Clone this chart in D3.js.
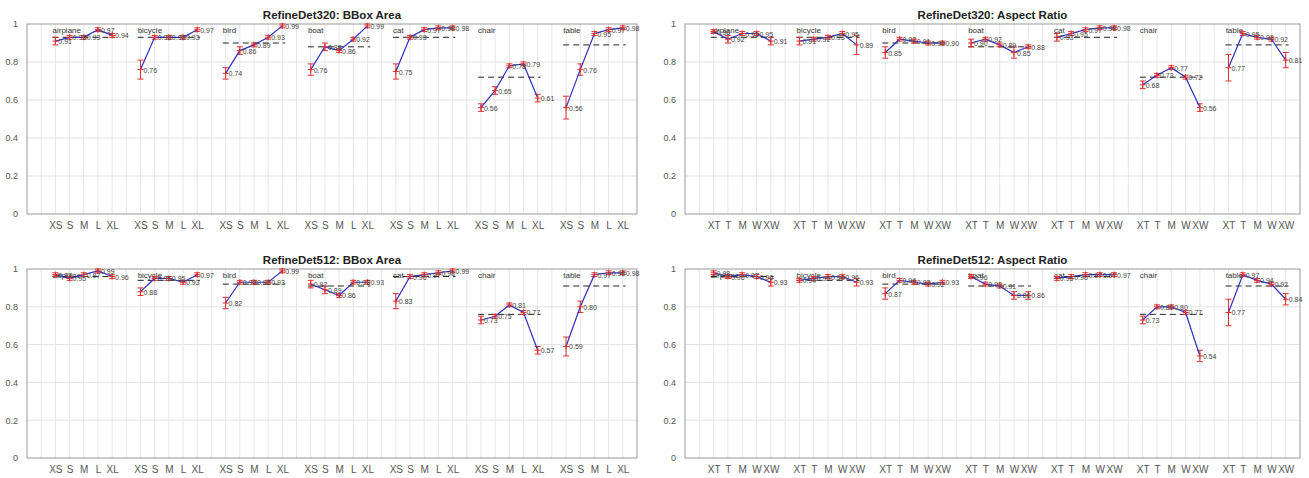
<!DOCTYPE html>
<html>
<head>
<meta charset="utf-8">
<script src="https://cdn.jsdelivr.net/npm/d3@7"></script>
<style>
body { margin: 0; background: #fff; }
text { font-family: "Liberation Sans", Arial, sans-serif; }
</style>
</head>
<body>
<div id="chart"></div>
<script>
var categories = ["airplane", "bicycle", "bird", "boat", "cat", "chair", "table"];
var areaTicks = ["XS", "S", "M", "L", "XL"];
var aspectTicks = ["XT", "T", "M", "W", "XW"];
var yTicks = [0, 0.2, 0.4, 0.6, 0.8, 1];

// RefineDet320 bbox area
var area320 = [
  [0.91, 0.93, 0.93, 0.97, 0.94],
  [0.76, 0.93, 0.93, 0.93, 0.97],
  [0.74, 0.86, 0.89, 0.93, 0.99],
  [0.76, 0.88, 0.86, 0.92, 0.99],
  [0.75, 0.93, 0.97, 0.98, 0.98],
  [0.56, 0.65, 0.78, 0.79, 0.61],
  [0.56, 0.76, 0.95, 0.97, 0.98]
];
var areaErr320 = [
  [0.02, 0.01, 0.01, 0.01, 0.01],
  [0.05, 0.01, 0.01, 0.01, 0.01],
  [0.03, 0.02, 0.01, 0.01, 0.01],
  [0.03, 0.02, 0.01, 0.01, 0.01],
  [0.04, 0.01, 0.01, 0.01, 0.01],
  [0.02, 0.02, 0.01, 0.01, 0.02],
  [0.06, 0.03, 0.01, 0.01, 0.01]
];
// RefineDet320 aspect ratio
var aspect320 = [
  [0.96, 0.92, 0.95, 0.95, 0.91],
  [0.91, 0.92, 0.93, 0.95, 0.89],
  [0.85, 0.92, 0.91, 0.90, 0.90],
  [0.90, 0.92, 0.89, 0.85, 0.88],
  [0.93, 0.95, 0.97, 0.98, 0.98],
  [0.68, 0.73, 0.77, 0.72, 0.56],
  [0.77, 0.95, 0.93, 0.92, 0.81]
];
var aspectErr320 = [
  [0.01, 0.02, 0.01, 0.01, 0.02],
  [0.02, 0.01, 0.01, 0.01, 0.05],
  [0.03, 0.01, 0.01, 0.01, 0.01],
  [0.02, 0.01, 0.01, 0.03, 0.01],
  [0.02, 0.01, 0.01, 0.01, 0.01],
  [0.02, 0.01, 0.01, 0.01, 0.02],
  [0.07, 0.01, 0.01, 0.01, 0.04]
];
var overall320 = [0.93, 0.93, 0.90, 0.88, 0.93, 0.72, 0.89];

// RefineDet512 bbox area
var area512 = [
  [0.97, 0.95, 0.97, 0.99, 0.96],
  [0.88, 0.95, 0.95, 0.93, 0.97],
  [0.82, 0.93, 0.93, 0.93, 0.99],
  [0.92, 0.89, 0.86, 0.93, 0.93],
  [0.83, 0.96, 0.97, 0.98, 0.99],
  [0.73, 0.75, 0.81, 0.77, 0.57],
  [0.59, 0.80, 0.97, 0.98, 0.98]
];
var areaErr512 = [
  [0.01, 0.01, 0.01, 0.01, 0.01],
  [0.02, 0.01, 0.01, 0.01, 0.01],
  [0.03, 0.01, 0.01, 0.01, 0.01],
  [0.02, 0.02, 0.01, 0.01, 0.01],
  [0.04, 0.01, 0.01, 0.01, 0.01],
  [0.02, 0.01, 0.01, 0.01, 0.02],
  [0.05, 0.03, 0.01, 0.01, 0.01]
];
// RefineDet512 aspect ratio
var aspect512 = [
  [0.98, 0.96, 0.97, 0.96, 0.93],
  [0.94, 0.95, 0.96, 0.96, 0.93],
  [0.87, 0.94, 0.93, 0.92, 0.93],
  [0.96, 0.92, 0.91, 0.86, 0.86],
  [0.95, 0.96, 0.97, 0.97, 0.97],
  [0.73, 0.80, 0.80, 0.77, 0.54],
  [0.77, 0.97, 0.94, 0.92, 0.84]
];
var aspectErr512 = [
  [0.01, 0.01, 0.01, 0.01, 0.02],
  [0.01, 0.01, 0.01, 0.01, 0.02],
  [0.03, 0.01, 0.01, 0.01, 0.01],
  [0.01, 0.01, 0.01, 0.02, 0.02],
  [0.01, 0.01, 0.01, 0.01, 0.01],
  [0.02, 0.01, 0.01, 0.01, 0.03],
  [0.07, 0.01, 0.01, 0.01, 0.03]
];
var overall512 = [0.96, 0.94, 0.92, 0.91, 0.96, 0.76, 0.91];

var panels = [
  {title: "RefineDet320: BBox Area", vals: area320, err: areaErr320, overall: overall320, ticks: areaTicks, x0: 27, x1: 637, y0: 214, y1: 24},
  {title: "RefineDet320: Aspect Ratio", vals: aspect320, err: aspectErr320, overall: overall320, ticks: aspectTicks, x0: 685, x1: 1300, y0: 214, y1: 24},
  {title: "RefineDet512: BBox Area", vals: area512, err: areaErr512, overall: overall512, ticks: areaTicks, x0: 27, x1: 637, y0: 458, y1: 269},
  {title: "RefineDet512: Aspect Ratio", vals: aspect512, err: aspectErr512, overall: overall512, ticks: aspectTicks, x0: 685, x1: 1300, y0: 458, y1: 269}
];

var svg = d3.select("#chart").append("svg")
  .attr("width", 1309)
  .attr("height", 478);

// position of point j of group i on the x axis
function pos(i, j) { return 2 + 6 * i + j; }

panels.forEach(function(p) {
  var xscale = d3.scaleLinear().domain([0, 43]).range([p.x0, p.x1]);
  var yscale = d3.scaleLinear().domain([0, 1]).range([p.y0, p.y1]);
  var g = svg.append("g");

  var tickPos = [], tickLab = [];
  categories.forEach(function(c, i) {
    p.ticks.forEach(function(t, j) { tickPos.push(pos(i, j)); tickLab.push(t); });
  });

  // grid
  g.append("g").selectAll("line").data(d3.range(1, 43)).enter().append("line")
    .attr("x1", d => xscale(d)).attr("x2", d => xscale(d))
    .attr("y1", p.y0).attr("y2", p.y1)
    .attr("stroke", "#e6e6e6").attr("stroke-width", 1);
  g.append("g").selectAll("line").data(yTicks.slice(1, 5)).enter().append("line")
    .attr("x1", p.x0).attr("x2", p.x1)
    .attr("y1", d => yscale(d)).attr("y2", d => yscale(d))
    .attr("stroke", "#e2e2e2").attr("stroke-width", 1);

  // axes
  var xAxis = d3.axisBottom(xscale).tickValues(tickPos)
    .tickFormat((d, k) => tickLab[k]).tickSize(0).tickPadding(8);
  var yAxis = d3.axisLeft(yscale).tickValues(yTicks)
    .tickFormat(d => d === 0 || d === 1 ? d : d.toFixed(1)).tickSize(0).tickPadding(9);
  var gx = g.append("g").attr("transform", `translate(0,${p.y0})`).call(xAxis);
  var gy = g.append("g").attr("transform", `translate(${p.x0},0)`).call(yAxis);
  [gx, gy].forEach(function(a) {
    a.select(".domain").remove();
    a.selectAll("text").attr("fill", "#555")
      .attr("font-family", "Liberation Sans, Arial, sans-serif");
  });
  gx.selectAll("text").attr("font-size", "10px");
  gy.selectAll("text").attr("font-size", "9px");
  g.append("rect").attr("x", p.x0).attr("y", p.y1)
    .attr("width", p.x1 - p.x0).attr("height", p.y0 - p.y1)
    .attr("fill", "none").attr("stroke", "#999").attr("stroke-width", 1);

  // title
  g.append("text").attr("x", (p.x0 + p.x1) / 2).attr("y", p.y1 - 5)
    .attr("text-anchor", "middle").attr("font-size", "11.5px").attr("font-weight", "bold")
    .attr("fill", "#222").text(p.title);

  categories.forEach(function(c, i) {
    var pts = p.vals[i].map((v, j) => [xscale(pos(i, j)), yscale(v)]);

    // overall normalized AP
    g.append("line")
      .attr("x1", xscale(pos(i, 0) - 0.2)).attr("x2", xscale(pos(i, 4) + 0.2))
      .attr("y1", yscale(p.overall[i])).attr("y2", yscale(p.overall[i]))
      .attr("stroke", "#222").attr("stroke-width", 1).attr("stroke-dasharray", "6,4");

    g.append("text").attr("x", xscale(pos(i, 0) - 0.2)).attr("y", yscale(0.955))
      .attr("font-size", "8px").attr("fill", "#333").text(c);

    // error bars
    p.vals[i].forEach(function(v, j) {
      var e = p.err[i][j], x = xscale(pos(i, j));
      g.append("line").attr("x1", x).attr("x2", x)
        .attr("y1", yscale(v - e)).attr("y2", yscale(v + e))
        .attr("stroke", "#e03030").attr("stroke-width", 1);
      [v - e, v + e].forEach(function(b) {
        g.append("line").attr("x1", x - 3).attr("x2", x + 3)
          .attr("y1", yscale(b)).attr("y2", yscale(b))
          .attr("stroke", "#e03030").attr("stroke-width", 1);
      });
    });

    g.append("path").datum(pts)
      .attr("d", d3.line())
      .attr("fill", "none").attr("stroke", "#3030c0").attr("stroke-width", 1.2);

    // markers
    pts.forEach(function(q) {
      g.append("path").attr("d", `M${q[0] - 3},${q[1]}h6M${q[0]},${q[1] - 3}v6`)
        .attr("stroke", "#e03030").attr("stroke-width", 1);
    });

    // value labels
    p.vals[i].forEach(function(v, j) {
      g.append("text").attr("x", xscale(pos(i, j)) + 3).attr("y", yscale(v) + 3)
        .attr("font-size", "7px").attr("fill", "#444").text(v.toFixed(2));
    });
  });
});
</script>
</body>
</html>
